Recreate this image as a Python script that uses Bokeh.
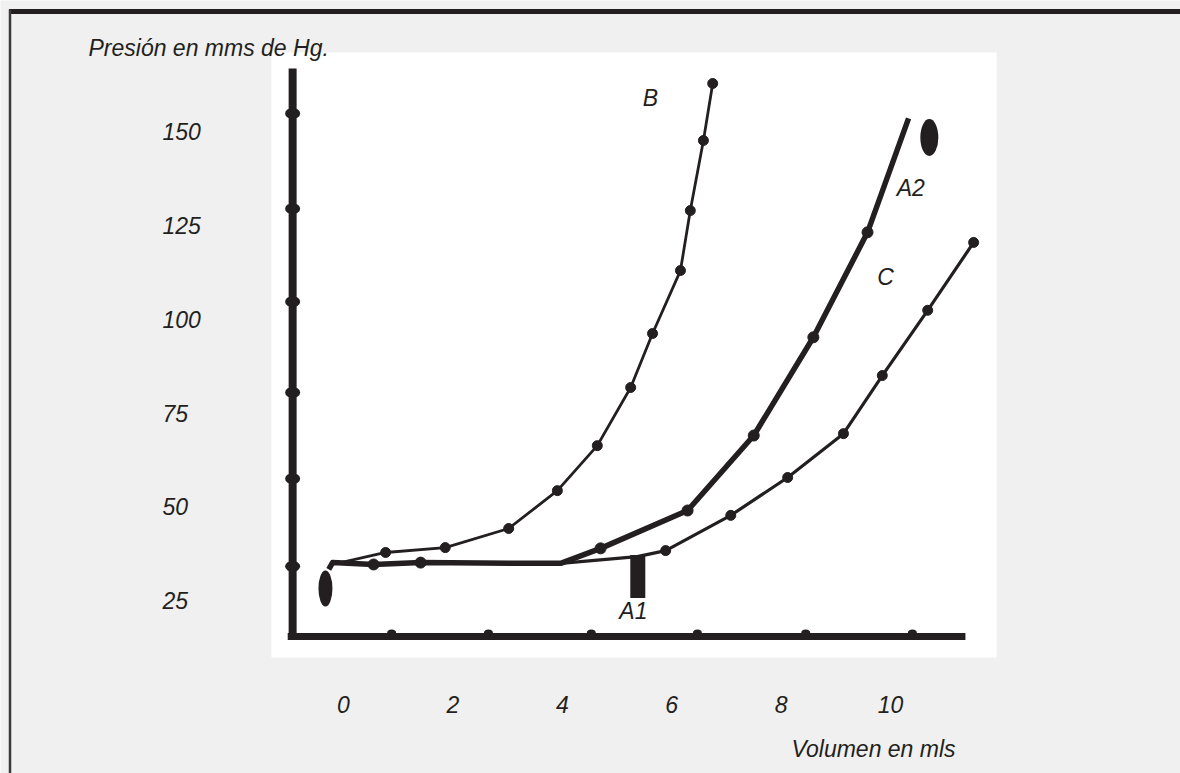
from bokeh.plotting import figure
from bokeh.models import Range1d
from bokeh.core.properties import value
from bokeh.embed import file_html
from bokeh.resources import INLINE

# ---------------- data (volume in ml, pressure in mm Hg) ----------------
curve_B_vol = [-0.05, 0.77, 1.86, 3.02, 3.91, 4.64, 5.25, 5.65, 6.16, 6.34, 6.58, 6.75]
curve_B_pres = [35.1, 37.8, 39.1, 44.2, 54.3, 66.3, 81.8, 96.2, 113.0, 129.0, 147.7, 162.9]

curve_A_vol = [-0.27, -0.20, 0.55, 1.41, 3.66, 3.97, 4.70, 6.29, 7.50, 8.59, 9.58, 10.33]
curve_A_pres = [33.3, 35.1, 34.6, 35.1, 34.9, 34.9, 38.9, 49.0, 69.0, 95.2, 123.2, 153.6]

curve_C_vol = [3.97, 5.37, 5.89, 7.08, 8.12, 9.14, 9.85, 10.68, 11.52]
curve_C_pres = [34.9, 36.7, 38.3, 47.7, 57.8, 69.5, 85.0, 102.4, 120.5]

# event blobs: start and A2 (rounded), A1 (block)
blob_vol = [-0.33, 10.71]
blob_pres = [28.2, 148.5]
blob_A1_vol = [5.38]
blob_A1_pres = [31.4]

# hand drawn axis of the scanned sketch and its tick dots
drawn_axis_vol = -0.93
drawn_axis_pres = 15.4
drawn_axis_vol_end = 11.37
drawn_axis_pres_end = 166.9
drawn_ytick_pres = [154.9, 129.5, 104.7, 80.5, 57.5, 34.1]
drawn_xtick_vol = [0.88, 2.65, 4.53, 6.47, 8.45, 10.40]

# printed tick labels
y_tick_values = [150, 125, 100, 75, 50, 25]
y_tick_labels = ["150", "125", "100", "75", "50", "25"]
x_tick_values = [0, 2, 4, 6, 8, 10]
x_tick_labels = ["0", "2", "4", "6", "8", "10"]

curve_names = ["B", "A2", "C", "A1"]
curve_name_vol = [5.61, 10.37, 9.91, 5.30]
curve_name_pres = [158.9, 134.9, 111.2, 22.3]

title_text = "Presión en mms de Hg."
xlabel_text = "Volumen en mls"

# ---------------- layout ----------------
W, H = 1180, 773
X0, XS = 343.0, 54.7      # pixel of volume 0, pixels per ml
Y0, YS = 693.7, 3.749     # pixel of pressure 0, pixels per mm Hg

def dx(px):
    return (px - X0) / XS

def dy(py):
    return (Y0 - py) / YS

INK = "#231f20"
BG = "#f0f0f0"
FONT = value("Liberation Sans")
FS = "23px"

p = figure(width=W, height=H,
           x_range=Range1d(dx(0), dx(W)), y_range=Range1d(dy(H), dy(0)),
           output_backend="svg", toolbar_location=None,
           x_axis_location=None, y_axis_location=None, min_border=0)
p.grid.grid_line_color = None
p.outline_line_color = None
p.background_fill_color = BG
p.border_fill_color = BG

# page frame
p.quad(left=dx(8.5), right=dx(W + 2), top=dy(8.5), bottom=dy(13.5), fill_color=INK, line_color=None)
p.segment(x0=dx(9.5), y0=dy(9), x1=dx(9.5), y1=dy(H + 2), line_color="#3a3a3a", line_width=2.5)

# scanned sketch area
p.quad(left=dx(271), right=dx(996), top=dy(52), bottom=dy(657), fill_color="white", line_color=None)

# hand-drawn axes
p.segment(x0=drawn_axis_vol, y0=drawn_axis_pres - 0.4, x1=drawn_axis_vol, y1=drawn_axis_pres_end,
          line_color=INK, line_width=8, line_cap="butt")
p.segment(x0=drawn_axis_vol - 0.09, y0=drawn_axis_pres, x1=drawn_axis_vol_end, y1=drawn_axis_pres,
          line_color=INK, line_width=7, line_cap="butt")
p.ellipse(x=[drawn_axis_vol] * len(drawn_ytick_pres), y=drawn_ytick_pres,
          width=15, height=11, width_units="screen", height_units="screen",
          fill_color=INK, line_color=None)
p.ellipse(x=drawn_xtick_vol, y=[drawn_axis_pres + 0.9] * len(drawn_xtick_vol),
          width=9, height=7, width_units="screen", height_units="screen",
          fill_color=INK, line_color=None)

# curves
p.line(curve_A_vol, curve_A_pres, line_color=INK, line_width=5.5, line_join="round")
p.line(curve_C_vol, curve_C_pres, line_color=INK, line_width=3.2, line_join="round")
p.line(curve_B_vol, curve_B_pres, line_color=INK, line_width=2.8, line_join="round")

p.scatter(curve_B_vol[1:], curve_B_pres[1:], size=10, color=INK)
p.scatter(curve_A_vol[2:4] + curve_A_vol[6:11], curve_A_pres[2:4] + curve_A_pres[6:11], size=11, color=INK)
p.scatter(curve_C_vol[2:], curve_C_pres[2:], size=10, color=INK)

# event blobs
p.ellipse(x=blob_vol, y=blob_pres, width=[14, 18], height=[36, 37],
          width_units="screen", height_units="screen", fill_color=INK, line_color=None)
p.rect(x=blob_A1_vol, y=blob_A1_pres, width=15, height=43,
       width_units="screen", height_units="screen", fill_color=INK, line_color=None)

# curve names
p.text(x=curve_name_vol, y=curve_name_pres, text=curve_names, text_font=FONT,
       text_font_style="italic", text_font_size=FS, text_color=INK,
       text_align="center", text_baseline="middle")

# printed tick labels
p.text(x=[dx(162)] * len(y_tick_values), y=y_tick_values, text=y_tick_labels, text_font=FONT,
       text_font_style="italic", text_font_size=FS, text_color=INK,
       text_align="left", text_baseline="middle")
p.text(x=x_tick_values, y=[dy(704)] * len(x_tick_values), text=x_tick_labels, text_font=FONT,
       text_font_style="italic", text_font_size=FS, text_color=INK,
       text_align="center", text_baseline="middle")

# titles
p.text(x=[dx(88)], y=[dy(47)], text=[title_text], text_font=FONT, text_font_style="italic",
       text_font_size=FS, text_color=INK, text_align="left", text_baseline="middle")
p.text(x=[dx(791)], y=[dy(748)], text=[xlabel_text], text_font=FONT, text_font_style="italic",
       text_font_size=FS, text_color=INK, text_align="left", text_baseline="middle")

open("out.html", "w").write(file_html(p, INLINE))
